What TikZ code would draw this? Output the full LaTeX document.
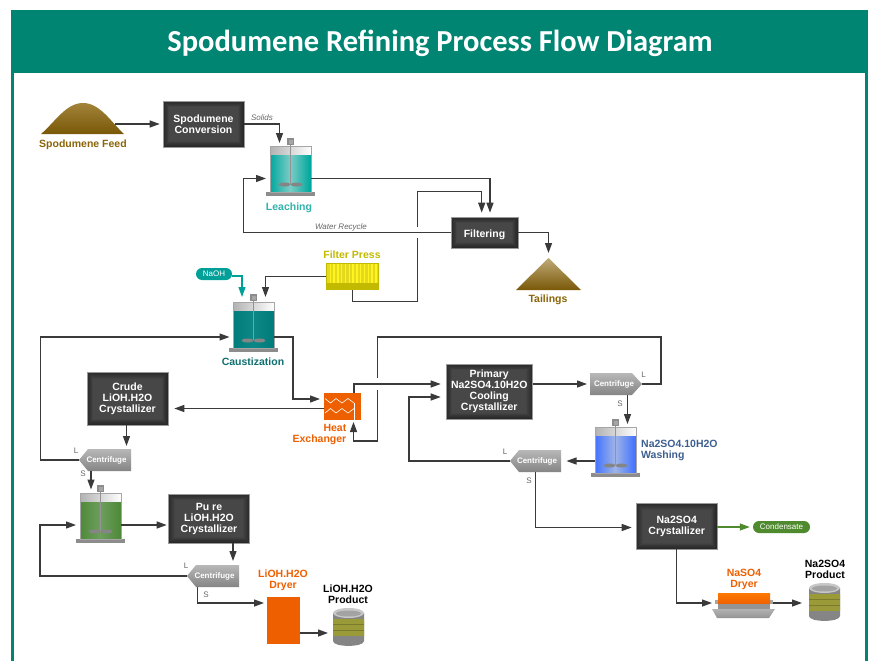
\documentclass[tikz,border=0pt]{standalone}
\usepackage{fontspec}
\setmainfont{Liberation Sans}
\newfontfamily\titlefont{Carlito}
\usetikzlibrary{arrows.meta}
\definecolor{frameteal}{HTML}{008573}
\definecolor{flowgray}{HTML}{3A3A3A}
\definecolor{orangeA}{HTML}{EE5F00}
\definecolor{pilebrown}{HTML}{8A6408}
\definecolor{labelgray}{HTML}{666666}
\definecolor{lblteal}{HTML}{2FB3AA}
\definecolor{lbldteal}{HTML}{0F6F6F}
\definecolor{lblblue}{HTML}{3D5F8F}
\definecolor{lblyellow}{HTML}{C2BA00}
\definecolor{condgreen}{HTML}{4F8A2E}
\definecolor{naohteal}{HTML}{00A098}
\definecolor{boxedge}{HTML}{292929}
\definecolor{boxmid}{HTML}{474747}
\definecolor{bandA}{HTML}{9A9A38}
\definecolor{bandB}{HTML}{C6C66C}
\tikzset{
  x=1pt,y=-1pt,
  flow/.style={draw=flowgray,line width=1.25pt,-{Triangle[length=10pt,width=7pt]}},
  flowteal/.style={flow,draw=naohteal,color=naohteal},
  flowgreen/.style={flow,draw=condgreen,color=condgreen},
  procbox/.style={rectangle,draw=black!40,line width=0.6pt,fill=boxedge,text=white,
    font=\fontsize{10.5}{11}\selectfont\bfseries,align=center,inner sep=0pt,minimum width=#1,
    execute at begin node={\rule{0pt}{13pt}},
    path picture={
      \foreach \i in {1,...,7}{
        \pgfmathtruncatemacro{\m}{\i*100/7}
        \fill[boxmid!\m!boxedge] ([xshift=\i*0.9pt,yshift=\i*0.9pt]path picture bounding box.south west)
          rectangle ([xshift=-\i*0.9pt,yshift=-\i*0.9pt]path picture bounding box.north east);
      }}},
  port/.style={rectangle,inner sep=0pt,outer sep=0pt},
  tag/.style={font=\fontsize{10.5}{11}\selectfont\bfseries,align=center,inner sep=0pt},
  note/.style={font=\fontsize{8}{9}\selectfont\itshape,text=labelgray,inner sep=0pt},
  side/.style={font=\fontsize{8}{9}\selectfont,text=labelgray,inner sep=0pt},
  pill/.style={rectangle,rounded corners=6pt,text=white,font=\fontsize{8}{9}\selectfont,inner sep=0pt,minimum height=12pt},
  cfg/.style={text=white,font=\fontsize{8}{9}\selectfont\bfseries},
}
\newcommand{\tankbox}[5]{%
  \begin{scope}[shift={(#2,#3)}]
    \fill[black!45] (-4,46) rectangle (45,50);
    \foreach \i in {0,...,40}{
      \pgfmathtruncatemacro{\m}{100-abs(\i-20)*5}
      \fill[#5!\m!#4] (\i,9) rectangle (41,46);
      \pgfmathtruncatemacro{\h}{\i*100/40}
      \fill[black!4!white!\h!black!30!white] (\i,0) rectangle (41,9);
    }
    \draw[black!35,line width=1pt] (0,0) rectangle (41,46);
    \draw[black!42,line width=1pt] (20.5,-4) -- (20.5,38);
    \fill[black!45] (17,-8) rectangle (24,-1);
    \fill[black!35] (18.5,-6.5) rectangle (22.5,-2.5);
    \fill[black!48] (14.5,38.5) ellipse [x radius=6,y radius=2];
    \fill[black!48] (26.5,38.5) ellipse [x radius=6,y radius=2];
    \node[port,minimum width=41pt,minimum height=46pt] (#1) at (20.5,23) {};
  \end{scope}}
\newcommand{\drumbox}[3]{%
  \begin{scope}[shift={(#2,#3)}]
    \shade[left color=black!48,middle color=black!12,right color=black!48]
      (0,5) -- (0,33) .. controls (0,39.5) and (31,39.5) .. (31,33) -- (31,5) -- cycle;
    \shade[left color=bandA,middle color=bandB,right color=bandA]
      (0,11) rectangle (31,27);
    \draw[bandA!80!black,line width=0.5pt] (0,16) -- (31,16) (0,22) -- (31,22);
    \fill[black!22] (15.5,5) ellipse [x radius=15.5,y radius=5];
    \fill[black!36] (15.5,5.5) ellipse [x radius=12.5,y radius=3];
    \node[port,minimum width=31pt,minimum height=38pt] (#1) at (15.5,19) {};
  \end{scope}}
\begin{document}
\begin{tikzpicture}
\useasboundingbox (0,0) rectangle (873,661);
\fill[white] (0,0) rectangle (873,661);
% frame and header
\fill[frameteal] (11,10) rectangle (14,661);
\fill[frameteal] (865,10) rectangle (868,661);
\fill[frameteal] (11,10) rectangle (868,73);
\node[text=white,font=\titlefont\fontsize{30.5}{32}\selectfont\bfseries,inner sep=0pt] (title) at (440,43.5) {Spodumene Refining Process Flow Diagram};

% piles
\shade[top color=pilebrown!80!white,bottom color=pilebrown!88!black]
  (41,134) .. controls (55,122) and (66,103) .. (83,103) .. controls (100,103) and (111,122) .. (124,134) -- cycle;
\node[port,minimum width=83pt,minimum height=31pt] (feed) at (82.5,118.5) {};
\node[tag,text=pilebrown] (feedlbl) at (83,144.5) {Spodumene Feed};
\shade[top color=pilebrown!55!white,bottom color=pilebrown!88!black] (548.5,258) -- (581,290) -- (516,290) -- cycle;
\node[port,minimum width=65pt,minimum height=32pt] (tail) at (548.5,274) {};
\node[tag,text=pilebrown] (taillbl) at (548,300) {Tailings};

% process boxes
\node[procbox=81pt,minimum height=46pt] (conv) at (203.5,124) {Spodumene\\Conversion};
\node[procbox=67pt,minimum height=31pt] (filt) at (484.5,232.5) {Filtering};
\node[procbox=81pt,minimum height=52.5pt] (crude) at (127.5,398.75) {Crude\\LiOH.H2O\\Crystallizer};
\node[procbox=81pt,minimum height=49pt] (pure) at (209,518.5) {Pu re\\LiOH.H2O\\Crystallizer};
\node[procbox=86.5pt,minimum height=55pt] (primary) at (489.25,391.5) {Primary\\Na2SO4.10H2O\\Cooling\\Crystallizer};
\node[procbox=80.5pt,minimum height=45.5pt] (cryst) at (676.75,526.25) {Na2SO4\\Crystallizer};

% tanks
\definecolor{lA}{HTML}{00A89E}\definecolor{lB}{HTML}{7CCCC6}
\tankbox{leach}{270}{146}{lA}{lB}
\node[tag,text=lblteal] (leachlbl) at (289,207.5) {Leaching};
\definecolor{cA}{HTML}{007C7A}\definecolor{cB}{HTML}{0E8886}
\tankbox{caust}{233}{302}{cA}{cB}
\node[tag,text=lbldteal] (caustlbl) at (253,362) {Caustization};
\definecolor{gA}{HTML}{4E8A38}\definecolor{gB}{HTML}{6E9E5E}
\tankbox{green}{80}{493}{gA}{gB}
\definecolor{bA}{HTML}{4373FF}\definecolor{bB}{HTML}{9FB4E6}
\tankbox{wash}{595}{427}{bA}{bB}
\node[tag,text=lblblue,align=left,anchor=west] (washlbl) at (641,450.5) {Na2SO4.10H2O\\Washing};

% filter press
\fill[lblyellow] (326,263) rectangle (379,290);
\fill[yellow!88!black] (327,264) rectangle (378,283);
\foreach \i in {0,...,12} {\fill[yellow!88!white] (329.5+\i*3.8,264) rectangle (331+\i*3.8,283);}
\node[port,minimum width=53pt,minimum height=27pt] (fp) at (352.5,276.5) {};
\node[tag,text=lblyellow] (fplbl) at (352,255) {Filter Press};

% NaOH and condensate
\node[pill,fill=naohteal,minimum width=36pt] (naoh) at (214,274) {NaOH};
\node[pill,fill=condgreen,minimum width=57pt] (cond) at (781.5,527) {Condensate};

% heat exchanger
\fill[orangeA] (324,393) rectangle (361,419.5);
\draw[white,line width=0.6pt] (325,398.5) -- (330.5,403) -- (336,398.5) -- (342,403) -- (348,398.5) -- (354,403);
\draw[white,line width=0.6pt] (325,413) -- (330.5,408.5) -- (336,413) -- (342,408.5) -- (348,413) -- (354,408.5);
\draw[white,line width=0.6pt] (354,403) -- (354,419.5);
\node[port,minimum width=37pt,minimum height=26.5pt] (hx) at (342.5,406.25) {};
\node[tag,text=orangeA,align=right,anchor=east] (hxlbl) at (346.5,434.5) {Heat\\Exchanger};

% centrifuges
\shade[top color=black!28,bottom color=black!48] (131,449) -- (88,449) -- (79,460) -- (88,471) -- (131,471) -- cycle;
\node[port,cfg,minimum width=52pt,minimum height=22pt] (cfA) at (105,460) {\hspace*{3pt}Centrifuge};
\shade[top color=black!28,bottom color=black!48] (239,565) -- (196,565) -- (187,576) -- (196,587) -- (239,587) -- cycle;
\node[port,cfg,minimum width=52pt,minimum height=22pt] (cfB) at (213,576) {\hspace*{3pt}Centrifuge};
\shade[top color=black!28,bottom color=black!48] (590,373) -- (632,373) -- (642,384) -- (632,395) -- (590,395) -- cycle;
\node[port,cfg,minimum width=52pt,minimum height=22pt] (cfC) at (616,384) {Centrifuge\hspace*{4pt}};
\shade[top color=black!28,bottom color=black!48] (561,450) -- (519,450) -- (510,461) -- (519,472) -- (561,472) -- cycle;
\node[port,cfg,minimum width=51pt,minimum height=22pt] (cfD) at (535.5,461) {\hspace*{3pt}Centrifuge};
\node[side] (la) at (76,451) {L};
\node[side] (sa) at (83,473.5) {S};
\node[side] (lb) at (186,566) {L};
\node[side] (sb) at (206,595) {S};
\node[side] (lc) at (643.5,375) {L};
\node[side] (sc) at (620,404) {S};
\node[side] (ld) at (505,452) {L};
\node[side] (sd) at (529,481) {S};

% dryers
\fill[orangeA] (267,597) rectangle (300,644);
\node[port,minimum width=33pt,minimum height=47pt] (dryA) at (283.5,620.5) {};
\node[tag,text=orangeA] (dryAlbl) at (283,580.5) {LiOH.H2O\\Dryer};
\fill[black!35] (715,600) rectangle (773,604);
\shade[top color=orange!95!red,bottom color=orangeA] (718,593) rectangle (770,604);
\fill[black!42] (718,604) rectangle (770,609);
\shade[top color=black!30,bottom color=black!42] (712,609) -- (775,609) -- (769,618) -- (717,618) -- cycle;
\node[port,minimum width=58pt,minimum height=20pt] (dryB) at (744,603) {};
\node[tag,text=orangeA] (dryBlbl) at (744,579.5) {NaSO4\\Dryer};

% products
\drumbox{prodA}{333}{608}
\node[tag,text=black] (prodAlbl) at (348,594.5) {LiOH.H2O\\Product};
\drumbox{prodB}{809}{583}
\node[tag,text=black] (prodBlbl) at (825,569.5) {Na2SO4\\Product};

% text on lines
\node[note] (solids) at (262,118) {Solids};
\node[note] (recycle) at (341,227) {Water Recycle};

% connectors
\draw[flow] ([xshift=-9pt,yshift=-5.5pt]feed.east) -- ([xshift=-3pt]conv.west);
\draw[flow] (conv.east) -| ([xshift=-11pt,yshift=3pt]leach.north);
\draw[flow] ([yshift=-9.5pt]leach.east) -| ([xshift=5.5pt,yshift=4pt]filt.north);
\draw[flow] (filt.west) -- (243.5,232.5) |- ([xshift=-4pt,yshift=-9.5pt]leach.west);
\draw[flow] (fp.south) |- (417.5,301.5) -- (417.5,238) (417.5,227) -- (417.5,191.7) -| ([xshift=-2.8pt,yshift=4pt]filt.north);
\draw[flow] (filt.east) -| ([yshift=5pt]tail.north);
\draw[flow] (fp.west) -| ([xshift=12pt,yshift=5pt]caust.north);
\draw[flowteal] ([yshift=-2pt]naoh.east) -| ([xshift=-11.5pt,yshift=5pt]caust.north);
\draw[flow] ([yshift=-12pt]caust.east) -- (293,337) |- ([xshift=-4pt,yshift=7.25pt]hx.west);
\draw[flow] (cfA.west) -- (40.5,460) |- ([xshift=-3.5pt,yshift=-12pt]caust.west);
\draw[flow] ([yshift=-2.25pt]hx.west) -- ([xshift=6pt,yshift=-9.75pt]crude.east);
\draw[flow] ([xshift=-1pt]crude.south) -- ([xshift=21.5pt,yshift=3pt]cfA.north);
\draw[flow] ([xshift=-14pt]cfA.south) -- ([xshift=-9.5pt,yshift=3.5pt]green.north);
\draw[flow] ([yshift=-9pt]green.east) -- ([xshift=-1.5pt,yshift=-6.5pt]pure.west);
\draw[flow] (cfB.west) -- (40,576) |- ([xshift=-4pt,yshift=-9pt]green.west);
\draw[flow] ([xshift=24pt]pure.south) -- ([xshift=20pt,yshift=4pt]cfB.north);
\draw[flow] ([xshift=-15.5pt]cfB.south) |- ([xshift=-3pt,yshift=17.5pt]dryA.west);
\draw[flow] ([yshift=-12.5pt]dryA.east) -- ([xshift=-5pt,yshift=-6pt]prodA.west);
\draw[flow] ([xshift=11.5pt]hx.north) |- ([xshift=-5pt,yshift=7.5pt]primary.west);
\draw[flow] ([yshift=7.5pt]primary.east) -- ([xshift=-3pt]cfC.west);
\draw[flow] (cfC.east) -- (661,384) -- (661,337) -- (377.5,337) -- (377.5,378) (377.5,390) -- (377.5,441) -| ([xshift=11pt,yshift=-2.5pt]hx.south);
\draw[flow] ([xshift=11.5pt]cfC.south) -- ([xshift=12pt,yshift=3pt]wash.north);
\draw[flow] ([yshift=-11pt]wash.west) -- ([xshift=5.5pt]cfD.east);
\draw[flow] (cfD.west) -- (409,461) |- ([xshift=-5pt,yshift=-5.5pt]primary.west);
\draw[flow] (cfD.south) |- ([xshift=-4.5pt,yshift=-1.25pt]cryst.west);
\draw[flowgreen] ([yshift=-0.75pt]cryst.east) -- ([xshift=-3pt]cond.west);
\draw[flow] (cryst.south) |- ([xshift=-3pt]dryB.west);
\draw[flow] (dryB.east) -- ([xshift=-7pt,yshift=-1pt]prodB.west);
\end{tikzpicture}
\end{document}
